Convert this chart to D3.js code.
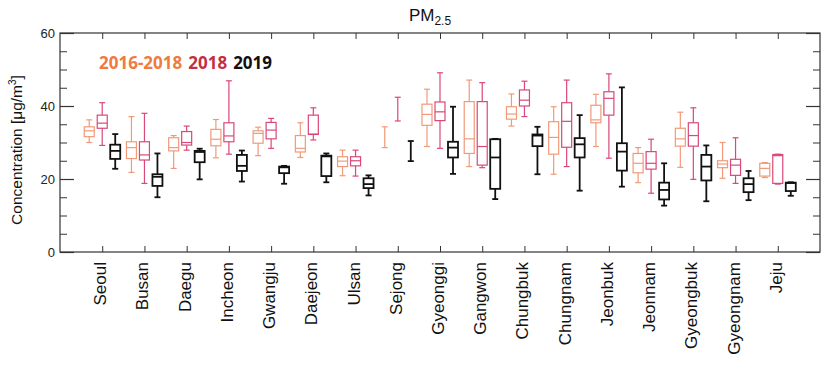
<!DOCTYPE html>
<html><head><meta charset="utf-8">
<script src="https://cdn.jsdelivr.net/npm/d3@7"></script>
<style>body{margin:0;background:#fff}svg{display:block}</style>
</head><body>
<svg id="c" width="828" height="366"></svg>
<script>
const categories = ["Seoul","Busan","Daegu","Incheon","Gwangju","Daejeon","Ulsan","Sejong","Gyeonggi","Gangwon","Chungbuk","Chungnam","Jeonbuk","Jeonnam","Gyeongbuk","Gyeongnam","Jeju"];
const seriesNames = ["2016-2018","2018","2019"];
// [min, q1, median, q3, max]; null box = whiskers only
const s2016_2018 = [
  [30.0,31.6,33.2,34.3,36.2],[21.8,25.6,28.6,30.2,37.1],[22.9,27.7,28.6,31.3,31.9],[25.8,29.1,30.9,33.6,36.3],
  [26.4,29.8,32.5,33.2,34.2],[25.9,27.4,28.4,31.9,35.4],[20.9,23.4,24.9,26.1,27.9],[28.6,null,null,null,34.3],
  [28.9,34.7,37.7,40.5,44.6],[23.4,27.0,31.0,41.2,47.1],[34.5,36.4,37.8,39.8,43.3],[21.3,26.8,31.4,35.7,39.8],
  [28.9,35.4,36.2,40.2,43.2],[19.0,21.7,24.3,27.0,28.6],[23.2,29.0,31.0,33.9,38.3],[20.2,23.1,24.1,25.0,30.0],
  [20.4,20.8,22.9,24.3,24.5]];
const s2018 = [
  [29.2,33.9,35.3,37.5,40.9],[18.8,25.2,26.6,30.2,38.0],[27.9,29.3,30.0,33.0,34.5],[26.8,30.2,31.8,35.4,46.9],
  [28.4,31.0,33.4,35.5,36.6],[30.7,32.2,32.3,37.5,39.5],[20.8,23.6,25.0,26.1,27.9],[35.9,null,null,null,42.4],
  [28.4,36.0,38.4,41.1,49.1],[23.1,23.8,28.9,41.2,46.4],[37.1,40.0,41.6,44.4,46.8],[23.4,28.7,35.8,40.9,47.1],
  [25.7,37.5,42.1,43.9,48.8],[16.1,22.7,24.3,27.5,30.9],[19.9,29.0,31.9,35.4,39.5],[18.8,21.0,23.8,25.4,31.3],
  [18.6,18.8,26.4,26.7,26.8]];
const s2019 = [
  [22.8,25.5,27.7,29.4,32.3],[15.0,18.1,20.6,21.3,27.0],[19.9,24.6,27.4,27.7,28.3],[19.3,22.2,23.6,26.6,27.8],
  [18.7,21.6,23.2,23.4,23.6],[19.1,20.8,26.2,26.4,27.0],[15.5,17.5,18.6,20.2,21.0],[24.9,null,null,null,30.4],
  [21.4,25.9,28.6,30.2,39.8],[14.5,17.3,25.9,30.9,31.0],[21.3,29.0,31.9,32.2,34.3],[16.8,25.9,29.5,31.2,37.5],
  [17.9,22.3,27.5,29.8,45.1],[12.7,14.4,17.0,19.0,24.3],[13.9,19.6,23.4,26.6,29.2],[14.2,16.4,18.6,20.2,22.2],
  [15.4,16.7,18.9,19.0,19.1]];
const yTicks = [0,20,40,60];

const series = [
  {name: seriesNames[0], data: s2016_2018, color: "#f19a78", legend: "#ee7b3f", sw: 1.2, off: -13},
  {name: seriesNames[1], data: s2018, color: "#d9487a", legend: "#c5303d", sw: 1.2, off: 0},
  {name: seriesNames[2], data: s2019, color: "#111", legend: "#111", sw: 1.8, off: 13}
];

const svg = d3.select("#c");
const L = 60, R = 820, T = 33, B = 252;
const x = d3.scaleLinear().domain([0, categories.length + 1]).range([L, R]);
const y = d3.scaleLinear().domain([0, 60]).range([B, T]);
const font = "Liberation Sans, Arial, sans-serif";

// frame
svg.append("rect").attr("x", L).attr("y", T).attr("width", R - L).attr("height", B - T)
  .attr("fill", "none").attr("stroke", "#333").attr("stroke-width", 1.2);

// y axis left
const yAxis = d3.axisLeft(y).tickValues(yTicks).tickSize(-14).tickPadding(5).tickFormat(d3.format("d"));
const ga = svg.append("g").attr("transform", `translate(${L},0)`).call(yAxis);
ga.select(".domain").remove();
ga.selectAll("line").attr("stroke", "#333").attr("stroke-width", 1.2);
ga.selectAll("text").attr("font-family", font).attr("font-size", 13).attr("fill", "#222");
const minor = d3.range(0, 61, 5).filter(v => v % 20 !== 0);
const gm = svg.append("g").attr("transform", `translate(${L},0)`).call(d3.axisLeft(y).tickValues(minor).tickSize(-7).tickFormat(""));
gm.select(".domain").remove(); gm.selectAll("line").attr("stroke", "#333");
// right
const gr = svg.append("g").attr("transform", `translate(${R},0)`).call(d3.axisRight(y).tickValues(yTicks).tickSize(-14).tickFormat(""));
gr.select(".domain").remove(); gr.selectAll("line").attr("stroke", "#333").attr("stroke-width", 1.2);
const grm = svg.append("g").attr("transform", `translate(${R},0)`).call(d3.axisRight(y).tickValues(minor).tickSize(-7).tickFormat(""));
grm.select(".domain").remove(); grm.selectAll("line").attr("stroke", "#333");

// x axis
const idx = categories.map((c, i) => i + 1);
const gx = svg.append("g").attr("transform", `translate(0,${B})`)
  .call(d3.axisBottom(x).tickValues(idx).tickSize(-6).tickFormat(""));
gx.select(".domain").remove(); gx.selectAll("line").attr("stroke", "#333");
const gxt = svg.append("g").attr("transform", `translate(0,${T})`)
  .call(d3.axisTop(x).tickValues(idx).tickSize(-6).tickFormat(""));
gxt.select(".domain").remove(); gxt.selectAll("line").attr("stroke", "#333");
svg.append("g").selectAll("text").data(categories).join("text")
  .attr("transform", (d, i) => `translate(${x(i + 1) + 4},${B + 10}) rotate(-90)`)
  .attr("text-anchor", "end").attr("font-family", font).attr("font-size", 17).attr("fill", "#111")
  .text(d => d);

// boxes
const bw = 10, cw = 6;
series.forEach(s => {
  const g = svg.append("g");
  s.data.forEach((d, i) => {
    const cx = x(i + 1) + s.off;
    const [mn, q1, md, q3, mx] = d;
    const st = (sel) => sel.attr("stroke", s.color).attr("stroke-width", s.sw).attr("fill", "none");
    if (q1 === null) {
      st(g.append("line").attr("x1", cx).attr("x2", cx).attr("y1", y(mn)).attr("y2", y(mx)));
    } else {
      st(g.append("line").attr("x1", cx).attr("x2", cx).attr("y1", y(mx)).attr("y2", y(q3)));
      st(g.append("line").attr("x1", cx).attr("x2", cx).attr("y1", y(q1)).attr("y2", y(mn)));
      st(g.append("rect").attr("x", cx - bw / 2).attr("width", bw).attr("y", y(q3)).attr("height", y(q1) - y(q3)));
      st(g.append("line").attr("x1", cx - bw / 2).attr("x2", cx + bw / 2).attr("y1", y(md)).attr("y2", y(md)));
    }
    st(g.append("line").attr("x1", cx - cw / 2).attr("x2", cx + cw / 2).attr("y1", y(mx)).attr("y2", y(mx)));
    st(g.append("line").attr("x1", cx - cw / 2).attr("x2", cx + cw / 2).attr("y1", y(mn)).attr("y2", y(mn)));
  });
});

// legend
const lg = svg.append("text").attr("x", 99).attr("y", 69).attr("font-family", "Noto Sans, sans-serif")
  .attr("font-size", 17).attr("font-weight", "bold");
series.forEach((s, i) => lg.append("tspan").attr("fill", s.legend).attr("dx", i ? 6 : 0).text(s.name));

// title
const tt = svg.append("text").attr("x", 430).attr("y", 21).attr("text-anchor", "middle")
  .attr("font-family", font).attr("font-size", 17).attr("fill", "#111");
tt.append("tspan").text("PM");
tt.append("tspan").attr("font-size", 12).attr("dy", 4).text("2.5");

// y label
svg.append("text").attr("transform", `translate(22,150) rotate(-90)`).attr("text-anchor", "middle")
  .attr("font-family", font).attr("font-size", 15.5).attr("fill", "#111")
  .html('Concentration [μg/m<tspan font-size="10" dy="-6">3</tspan><tspan dy="6">]</tspan>');
</script>
</body></html>
